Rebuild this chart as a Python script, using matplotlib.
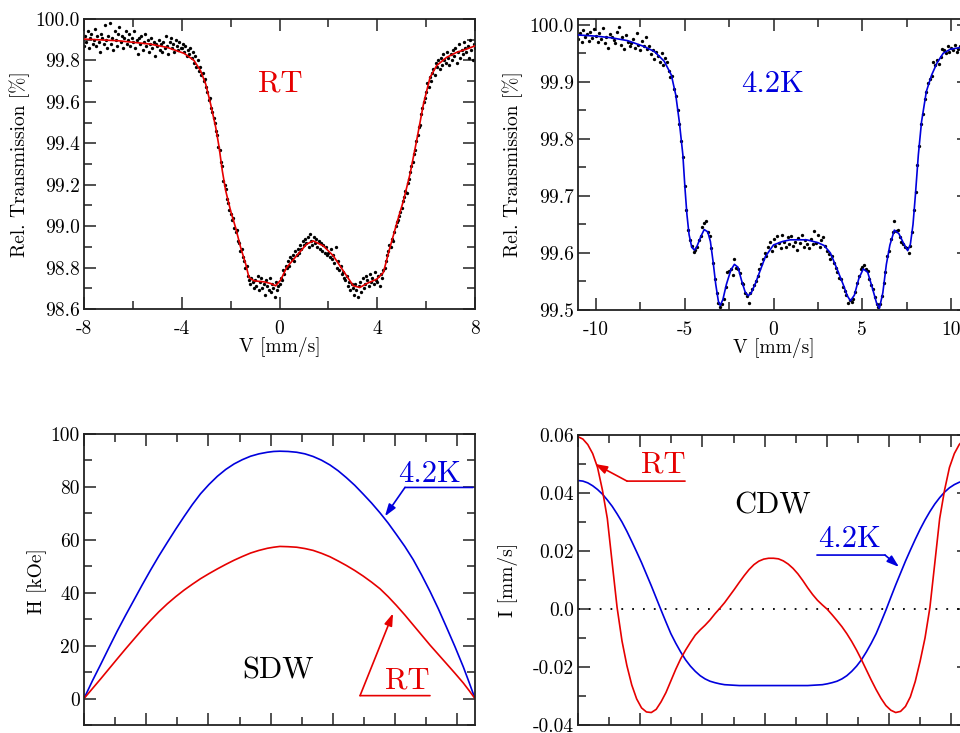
import numpy as np
import matplotlib
matplotlib.use('Agg')
import matplotlib.pyplot as plt
from matplotlib.ticker import MultipleLocator, FuncFormatter

plt.rcParams['font.family'] = 'cmr10'
plt.rcParams['axes.unicode_minus'] = False
plt.rcParams['mathtext.fontset'] = 'cm'

RED = '#e60000'
BLUE = '#0000dd'

# ---- Moessbauer spectrum, room temperature ----
rt_counts = [
    99.87, 99.92, 99.89, 99.94, 99.86, 99.91, 99.93, 99.88, 99.90, 99.95, 99.87, 99.92, 99.89, 99.84, 99.93, 99.91, 99.88, 99.97, 99.90, 99.86,
    99.92, 99.98, 99.88, 99.91, 99.85, 99.94, 99.90, 99.87, 99.93, 99.96, 99.89, 99.92, 99.86, 99.91, 99.94, 99.88, 99.90, 99.93, 99.87, 99.91,
    99.89, 99.94, 99.86, 99.90, 99.83, 99.91, 99.88, 99.92, 99.85, 99.89, 99.93, 99.87, 99.90, 99.84, 99.88, 99.91, 99.86, 99.89, 99.82, 99.88,
    99.87, 99.90, 99.85, 99.88, 99.84, 99.89, 99.86, 99.92, 99.87, 99.83, 99.89, 99.91, 99.86, 99.88, 99.84, 99.90, 99.87, 99.85, 99.89, 99.86,
    99.86, 99.88, 99.84, 99.87, 99.82, 99.85, 99.83, 99.86, 99.81, 99.84, 99.79, 99.82, 99.77, 99.80, 99.75, 99.77, 99.73, 99.74, 99.70, 99.71,
    99.67, 99.65, 99.61, 99.62, 99.57, 99.55, 99.52, 99.50, 99.46, 99.44, 99.38, 99.37, 99.31, 99.29, 99.22, 99.20, 99.18, 99.13, 99.11, 99.08,
    99.06, 99.03, 99.04, 98.99, 98.97, 98.98, 98.93, 98.92, 98.88, 98.89, 98.85, 98.83, 98.80, 98.81, 98.76, 98.74, 98.72, 98.75, 98.73, 98.70,
    98.74, 98.71, 98.76, 98.69, 98.73, 98.75, 98.70, 98.72, 98.67, 98.74, 98.71, 98.69, 98.75, 98.68, 98.72, 98.70, 98.66, 98.73, 98.69, 98.71,
    98.72, 98.75, 98.74, 98.79, 98.77, 98.81, 98.80, 98.83, 98.81, 98.85, 98.84, 98.86, 98.83, 98.88, 98.86, 98.89, 98.87, 98.91, 98.89, 98.93,
    98.91, 98.94, 98.92, 98.95, 98.90, 98.96, 98.93, 98.91, 98.95, 98.92, 98.94, 98.90, 98.93, 98.89, 98.92, 98.88, 98.91, 98.87, 98.90, 98.86,
    98.87, 98.85, 98.89, 98.84, 98.86, 98.82, 98.90, 98.80, 98.83, 98.79, 98.81, 98.77, 98.78, 98.75, 98.74, 98.76, 98.71, 98.73, 98.69, 98.72,
    98.70, 98.67, 98.72, 98.69, 98.66, 98.71, 98.73, 98.68, 98.75, 98.70, 98.72, 98.76, 98.74, 98.71, 98.77, 98.73, 98.75, 98.72, 98.78, 98.74,
    98.73, 98.76, 98.71, 98.77, 98.75, 98.79, 98.80, 98.83, 98.86, 98.88, 98.91, 98.90, 98.94, 98.93, 98.97, 99.00, 99.02, 99.03, 99.05, 99.07,
    99.09, 99.12, 99.14, 99.17, 99.16, 99.21, 99.23, 99.26, 99.29, 99.31, 99.35, 99.37, 99.41, 99.44, 99.48, 99.49, 99.54, 99.57, 99.60, 99.62,
    99.65, 99.69, 99.67, 99.72, 99.70, 99.74, 99.76, 99.73, 99.79, 99.77, 99.80, 99.76, 99.81, 99.78, 99.83, 99.80, 99.79, 99.84, 99.81, 99.78,
    99.83, 99.80, 99.85, 99.82, 99.86, 99.79, 99.84, 99.88, 99.81, 99.85, 99.83, 99.89, 99.86, 99.84, 99.87, 99.81, 99.90, 99.85, 99.80, 99.88,
    99.86]
rt_v = np.linspace(-8, 8, len(rt_counts))   # velocity channels

rt_fit_v = [-8.0, -6.6, -5.3, -4.6, -3.9, -3.5, -3.23, -3.02, -2.82, -2.61, -2.47, -2.34, -2.2, -2.0,
            -1.79, -1.59, -1.38, -1.25, -1.04, -0.63, -0.36, -0.16, 0.05, 0.29, 0.7, 1.11, 1.38, 1.79,
            2.2, 2.61, 3.02, 3.29, 3.57, 3.98, 4.25, 4.52, 4.79, 5.07, 5.34, 5.61, 5.89, 6.16, 6.43,
            6.84, 7.25, 7.66, 8.0]
rt_fit_t = [99.903, 99.895, 99.879, 99.863, 99.834, 99.8, 99.75, 99.686, 99.59, 99.477, 99.38, 99.267,
            99.17, 99.074, 98.99, 98.897, 98.816, 98.752, 98.736, 98.731, 98.723, 98.712, 98.74, 98.8,
            98.857, 98.913, 98.929, 98.905, 98.857, 98.784, 98.712, 98.704, 98.723, 98.744, 98.776,
            98.897, 99.01, 99.122, 99.251, 99.412, 99.589, 99.718, 99.775, 99.815, 99.839, 99.855, 99.87]

# ---- Moessbauer spectrum, 4.2 K ----
lt_counts = [
    99.975, 99.985, 99.970, 99.990, 99.978, 99.983, 99.972, 99.988, 99.976, 99.993,
    99.981, 99.970, 99.986, 99.975, 99.995, 99.968, 99.979, 99.960, 99.984, 99.978,
    99.974, 99.968, 99.988, 99.996, 99.965, 99.978, 99.958, 99.982, 99.970, 99.962,
    99.968, 99.975, 99.960, 99.986, 99.965, 99.955, 99.972, 99.962, 99.978, 99.958,
    99.962, 99.948, 99.956, 99.940, 99.952, 99.945, 99.935, 99.950, 99.930, 99.942,
    99.935, 99.918, 99.908, 99.910, 99.888, 99.875, 99.850, 99.826, 99.797, 99.768,
    99.718, 99.676, 99.640, 99.622, 99.612, 99.602, 99.606, 99.610, 99.622, 99.630,
    99.645, 99.652, 99.656, 99.636, 99.630, 99.608, 99.582, 99.555, 99.530, 99.512,
    99.506, 99.510, 99.520, 99.540, 99.566, 99.568, 99.572, 99.562, 99.590, 99.574,
    99.572, 99.564, 99.548, 99.545, 99.530, 99.524, 99.512, 99.530, 99.536, 99.544,
    99.550, 99.560, 99.572, 99.580, 99.590, 99.600, 99.595, 99.610, 99.620, 99.603,
    99.625, 99.612, 99.630, 99.618, 99.608, 99.632, 99.620, 99.610, 99.628, 99.615,
    99.630, 99.612, 99.620, 99.605, 99.626, 99.618, 99.632, 99.610, 99.622, 99.615,
    99.608, 99.625, 99.615, 99.638, 99.618, 99.632, 99.610, 99.622, 99.628, 99.612,
    99.603, 99.598, 99.590, 99.594, 99.582, 99.574, 99.566, 99.556, 99.554, 99.540,
    99.534, 99.526, 99.512, 99.518, 99.514, 99.520, 99.532, 99.548, 99.560, 99.572,
    99.576, 99.578, 99.572, 99.568, 99.555, 99.544, 99.536, 99.522, 99.510, 99.506,
    99.510, 99.525, 99.548, 99.566, 99.594, 99.603, 99.624, 99.636, 99.656, 99.638,
    99.640, 99.628, 99.620, 99.616, 99.610, 99.608, 99.600, 99.612, 99.636, 99.675,
    99.706, 99.755, 99.788, 99.826, 99.844, 99.870, 99.882, 99.898, 99.905, 99.910,
    99.935, 99.930, 99.938, 99.932, 99.944, 99.958, 99.955, 99.950, 99.962, 99.952,
    99.960, 99.955, 99.965, 99.952, 99.958, 99.963, 99.956, 99.960, 99.950, 99.962,
    99.958]
lt_v = np.linspace(-11, 11, len(lt_counts))   # velocity channels

lt_fit_v = [-11.0, -10.0, -9.1, -8.2, -7.3, -6.7, -6.15, -5.75, -5.5, -5.3, -5.1, -4.98, -4.87, -4.75,
            -4.6, -4.45, -4.3, -4.1, -3.9, -3.7, -3.55, -3.4, -3.25, -3.1, -3.0, -2.85, -2.65, -2.4,
            -2.2, -2.0, -1.8, -1.6, -1.42, -1.25, -1.0, -0.8, -0.45, 0.0, 0.5, 0.94, 1.87, 2.5, 2.85,
            3.2, 3.56, 3.93, 4.15, 4.33, 4.55, 4.8, 5.05, 5.3, 5.55, 5.8, 5.96, 6.15, 6.35, 6.55, 6.8,
            7.05, 7.3, 7.55, 7.7, 7.85, 7.98, 8.15, 8.33, 8.6, 8.9, 9.2, 9.55, 9.95, 10.5, 11.0]
lt_fit_t = [99.982, 99.980, 99.977, 99.972, 99.962, 99.953, 99.936, 99.912, 99.877, 99.830, 99.772,
            99.713, 99.667, 99.632, 99.610, 99.605, 99.612, 99.628, 99.641, 99.637, 99.620, 99.585,
            99.545, 99.515, 99.508, 99.518, 99.545, 99.570, 99.580, 99.575, 99.552, 99.532, 99.525,
            99.530, 99.548, 99.565, 99.594, 99.614, 99.620, 99.623, 99.623, 99.618, 99.613, 99.600,
            99.573, 99.544, 99.525, 99.516, 99.526, 99.555, 99.572, 99.566, 99.540, 99.512, 99.503,
            99.530, 99.580, 99.614, 99.640, 99.634, 99.618, 99.604, 99.615, 99.650, 99.700, 99.772,
            99.830, 99.883, 99.912, 99.933, 99.950, 99.957, 99.960, 99.962]

# ---- hyperfine field profile (SDW), phase in units of pi ----
sdw_phase = [0, 0.0215, 0.043, 0.064, 0.085, 0.1065, 0.128, 0.149, 0.17, 0.1915, 0.213, 0.2345,
             0.256, 0.277, 0.298, 0.3195, 0.341, 0.3625, 0.384, 0.405, 0.426, 0.4475, 0.469, 0.485,
             0.501, 0.522, 0.544, 0.565, 0.586, 0.6075, 0.629, 0.65, 0.671, 0.6925, 0.714, 0.7355,
             0.757, 0.778, 0.799, 0.8205, 0.842, 0.8635, 0.885, 0.906, 0.927, 0.9485, 0.97, 0.985, 1.0]
sdw_lt = [0, 6.7, 13, 19.3, 25.5, 31.5, 37.3, 43, 48.5, 53.9, 59, 64, 68.8, 73.3, 77.4, 80.9, 84,
          86.6, 88.7, 90.3, 91.6, 92.5, 93.1, 93.4, 93.5, 93.4, 93.1, 92.5, 91.5, 90.1, 88.3, 86.1,
          83.5, 80.6, 77.3, 73.9, 70.2, 66.3, 62, 57.5, 52.5, 46.7, 40.5, 34, 27, 19.7, 12, 6.1, 0]
sdw_rt = [0, 3.75, 7.5, 11.25, 15, 18.8, 22.5, 26.1, 29.5, 32.8, 35.8, 38.5, 41, 43.2, 45.3, 47.2,
          49, 50.7, 52.3, 53.7, 55, 56, 56.8, 57.2, 57.5, 57.4, 57.2, 56.7, 56, 54.9, 53.6, 52, 50.3,
          48.4, 46.3, 44, 41.5, 38.5, 35.2, 31.6, 27.8, 24, 20.2, 16.7, 13.2, 9.6, 5.9, 3, 0]

# ---- CDW profile, sampled every 1/80 of the phase range ----
cdw_rt = [0.0594, 0.0586, 0.0567, 0.0536, 0.0488, 0.0410, 0.0312, 0.0158, 0.0005, -0.0110,
          -0.0195, -0.0262, -0.0310, -0.0341, -0.0355, -0.0357, -0.0346, -0.0320, -0.0288, -0.0248,
          -0.0208, -0.0172, -0.0142, -0.0115, -0.0090, -0.0072, -0.0056, -0.0038, -0.0017, 0.0002,
          0.0022, 0.0045, 0.0068, 0.0092, 0.0115, 0.0136, 0.0153, 0.0165, 0.0172, 0.0175, 0.0175,
          0.0173, 0.0166, 0.0155, 0.0140, 0.0121, 0.0098, 0.0073, 0.0050, 0.0030, 0.0014,
          -0.0001, -0.0020, -0.0040, -0.0061, -0.0085, -0.0112, -0.0142, -0.0175, -0.0210, -0.0245,
          -0.0278, -0.0308, -0.0333, -0.0349, -0.0357, -0.0353, -0.0336, -0.0303, -0.0250, -0.0180,
          -0.0100, 0.0005, 0.0158, 0.0312, 0.0410, 0.0488, 0.0536, 0.0567, 0.0586, 0.0594]
cdw_lt = [0.0443, 0.0441, 0.0435, 0.0425, 0.0412, 0.0396, 0.0376, 0.0354, 0.0328, 0.0300,
          0.0268, 0.0233, 0.0197, 0.0160, 0.0120, 0.0080, 0.0038, -0.0004, -0.0045, -0.0085,
          -0.0118, -0.0148, -0.0175, -0.0197, -0.0215, -0.0230, -0.0241, -0.0249, -0.0254, -0.0258,
          -0.0261, -0.0262, -0.0263, -0.0264, -0.0264, -0.0264, -0.0264, -0.0264, -0.0264, -0.0264,
          -0.0264, -0.0264, -0.0264, -0.0264, -0.0264, -0.0264, -0.0264, -0.0264, -0.0263, -0.0262,
          -0.0261, -0.0258, -0.0254, -0.0249, -0.0241, -0.0230, -0.0215, -0.0197, -0.0175, -0.0148,
          -0.0118, -0.0085, -0.0045, -0.0004, 0.0040, 0.0083, 0.0124, 0.0165, 0.0203, 0.0240,
          0.0275, 0.0307, 0.0336, 0.0362, 0.0384, 0.0403, 0.0418, 0.0429, 0.0437, 0.0442, 0.0443]
cdw_phase = np.linspace(0, 1, len(cdw_rt))


def style_axes(ax, xmaj, xmin, ymaj, ymin):
    ax.xaxis.set_major_locator(MultipleLocator(xmaj))
    ax.xaxis.set_minor_locator(MultipleLocator(xmin))
    ax.yaxis.set_major_locator(MultipleLocator(ymaj))
    ax.yaxis.set_minor_locator(MultipleLocator(ymin))
    ax.tick_params(which='both', direction='in', top=True, right=True, width=1.1, color='#222222')
    ax.tick_params(which='major', length=8.5)
    ax.tick_params(which='minor', length=5.5)
    ax.tick_params(axis='x', pad=8, labelsize=14)
    ax.tick_params(axis='y', pad=3, labelsize=14)
    for s in ax.spines.values():
        s.set_linewidth(1.3)
        s.set_color('#222222')


def callout(ax, text, color, text_xy, line_from, line_to, tip):
    ax.text(text_xy[0], text_xy[1], text, color=color, fontsize=22, ha='center', va='baseline')
    ax.annotate('', xy=line_to, xytext=line_from,
                arrowprops=dict(arrowstyle='-', color=color, lw=1.2, shrinkA=0, shrinkB=0))
    ax.annotate('', xy=tip, xytext=line_from,
                arrowprops=dict(arrowstyle='-|>,head_length=0.6,head_width=0.2', color=color,
                                lw=1.2, shrinkA=0, shrinkB=0, mutation_scale=12))


fig = plt.figure(figsize=(9.6, 7.33), dpi=100)
W = 391 / 960
ax1 = fig.add_axes([84 / 960, 1 - 309 / 733, W, 290 / 733])
ax2 = fig.add_axes([578 / 960, 1 - 310 / 733, W, 291 / 733])
ax3 = fig.add_axes([84 / 960, 1 - 725 / 733, W, 291 / 733])
ax4 = fig.add_axes([578 / 960, 1 - 725 / 733, W, 290 / 733])

# top left
ax1.plot(rt_v, rt_counts, 'o', ms=2.4, mew=0, color='black', zorder=2)
ax1.plot(rt_fit_v, rt_fit_t, color=RED, lw=1.2, zorder=3)
ax1.set_xlim(-8, 8)
ax1.set_ylim(98.6, 100.0)
style_axes(ax1, 4, 2, 0.2, 0.1)
ax1.yaxis.set_major_formatter(FuncFormatter(lambda v, p: '%.1f' % v))
ax1.xaxis.set_major_formatter(FuncFormatter(lambda v, p: '%d' % round(v)))
ax1.set_ylabel('Rel. Transmission [%]', fontsize=14)
ax1.set_xlabel('V [mm/s]', fontsize=14)
ax1.yaxis.set_label_coords(-0.138, 0.5)
ax1.xaxis.set_label_coords(0.5, -0.095)
ax1.text(0.02, 99.652, 'RT', color=RED, fontsize=22, ha='center', va='baseline')

# top right
ax2.plot(lt_v, lt_counts, 'o', ms=2.4, mew=0, color='black', zorder=2)
ax2.plot(lt_fit_v, lt_fit_t, color=BLUE, lw=1.2, zorder=3)
ax2.set_xlim(-11, 11)
ax2.set_ylim(99.5, 100.01)
style_axes(ax2, 5, 2.5, 0.1, 0.05)
ax2.yaxis.set_major_formatter(FuncFormatter(lambda v, p: '%.1f' % v))
ax2.xaxis.set_major_formatter(FuncFormatter(lambda v, p: '%d' % round(v)))
ax2.set_ylabel('Rel. Transmission [%]', fontsize=14)
ax2.set_xlabel('V [mm/s]', fontsize=14)
ax2.yaxis.set_label_coords(-0.141, 0.5)
ax2.xaxis.set_label_coords(0.5, -0.095)
ax2.text(-0.06, 99.882, '4.2K', color=BLUE, fontsize=22, ha='center', va='baseline')

# bottom left: SDW
ax3.plot(np.pi * np.array(sdw_phase), sdw_lt, color=BLUE, lw=1.2)
ax3.plot(np.pi * np.array(sdw_phase), sdw_rt, color=RED, lw=1.2)
ax3.set_xlim(0, np.pi)
ax3.set_ylim(-10, 100)
style_axes(ax3, 0.5, 0.25, 20, 10)
ax3.tick_params(axis='x', labelbottom=False)
ax3.yaxis.set_major_formatter(FuncFormatter(lambda v, p: '%d' % round(v)))
ax3.set_ylabel('H [kOe]', fontsize=14)
ax3.yaxis.set_label_coords(-0.095, 0.495)
ax3.text(1.559, 7.6, 'SDW', color='black', fontsize=22, ha='center', va='baseline')
callout(ax3, '4.2K', BLUE, (2.78, 81.7), (2.579, 79.8), (3.125, 79.8), (2.418, 68.9))
callout(ax3, 'RT', RED, (2.595, 3.8), (2.218, 1.1), (2.78, 1.1), (2.483, 32.2))

# bottom right: CDW
ax4.axhline(0, color='black', lw=1.3, ls=(0, (1, 5)))
ax4.plot(np.pi * cdw_phase, cdw_lt, color=BLUE, lw=1.2)
ax4.plot(np.pi * cdw_phase, cdw_rt, color=RED, lw=1.2)
ax4.set_xlim(0, np.pi)
ax4.set_ylim(-0.04, 0.06)
style_axes(ax4, 0.5, 0.25, 0.02, 0.01)
ax4.tick_params(axis='x', labelbottom=False)
ax4.yaxis.set_major_formatter(FuncFormatter(lambda v, p: '0.0' if abs(v) < 1e-9 else '%.2f' % v))
ax4.set_ylabel('I [mm/s]', fontsize=14)
ax4.yaxis.set_label_coords(-0.153, 0.5)
ax4.text(1.567, 0.0331, 'CDW', color='black', fontsize=22, ha='center', va='baseline')
callout(ax4, 'RT', RED, (0.683, 0.0469), (0.394, 0.0441), (0.86, 0.0441), (0.137, 0.050))
callout(ax4, '4.2K', BLUE, (2.185, 0.0214), (2.467, 0.0186), (1.92, 0.0186), (2.579, 0.0145))

fig.savefig('out.png', dpi=100)
